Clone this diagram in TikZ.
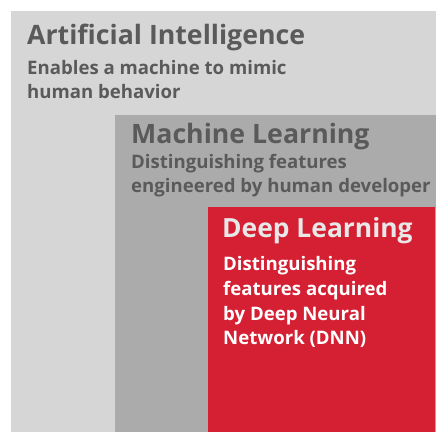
\documentclass[tikz,border=0pt]{standalone}
\usepackage{fontspec}
\setmainfont{Open Sans}
\definecolor{aigray}{HTML}{D6D6D6}
\definecolor{mlgray}{HTML}{ABABAB}
\definecolor{dlred}{HTML}{D52033}
\definecolor{txtgray}{HTML}{5A5A5A}
\definecolor{dltitle}{HTML}{E8E8E8}
\tikzset{
  ttl/.style={anchor=base west,inner sep=0pt,font=\bfseries\fontsize{26.7}{26.7}\selectfont},
  bdy/.style={anchor=base west,inner sep=0pt,font=\bfseries\fontsize{18.6}{24.5}\selectfont,align=left},
}
\begin{document}
\begin{tikzpicture}[x=1pt,y=-1pt]
\useasboundingbox (0,0) rectangle (436,432);
\fill[white] (0,0) rectangle (436,432);
\fill[aigray] (11,11) rectangle (436,432);
\fill[mlgray] (115,115) rectangle (436,432);
\fill[dlred] (208,207) rectangle (434.5,432);
\node[ttl,text=txtgray] (ai) at (27,44) {Artificial Intelligence};
\node[bdy,text=txtgray] (aib) at (27,74) {Enables a machine to mimic};
\node[bdy,text=txtgray] (aib2) at (27,98) {human behavior};
\node[ttl,text=txtgray] (ml) at (131,143) {Machine Learning};
\node[bdy,text=txtgray] (mlb) at (131,168) {Distinguishing features};
\node[bdy,text=txtgray] (mlb2) at (131,192.5) {engineered by human developer};
\node[ttl,text=dltitle,font=\bfseries\fontsize{26.4}{26.4}\selectfont] (dl) at (222,237) {Deep Learning};
\node[bdy,text=white] (dlb1) at (223,270) {Distinguishing};
\node[bdy,text=white] (dlb2) at (223,295) {features acquired};
\node[bdy,text=white] (dlb3) at (223,320) {by Deep Neural};
\node[bdy,text=white] (dlb4) at (223,344) {Network (DNN)};
\end{tikzpicture}
\end{document}
